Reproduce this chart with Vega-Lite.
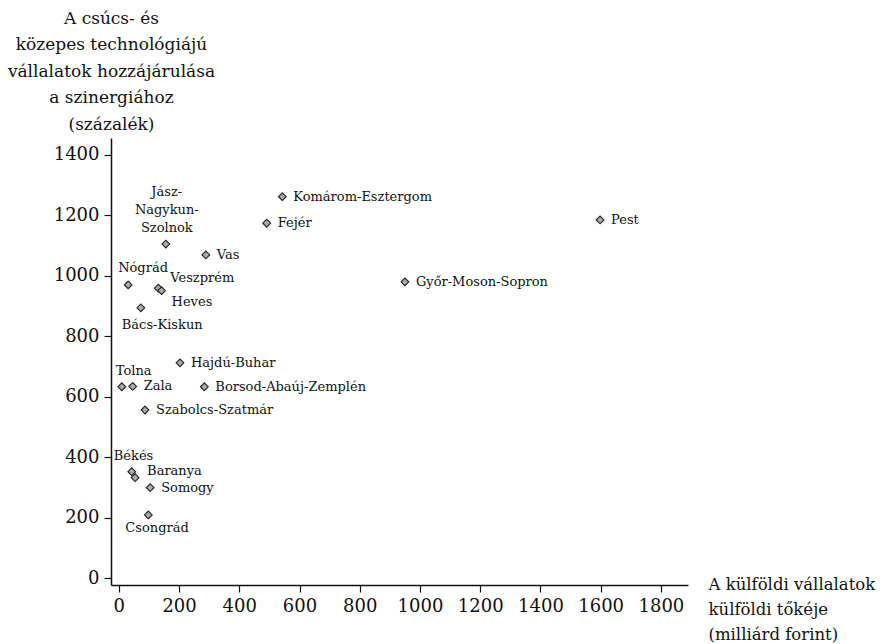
{
  "$schema": "https://vega.github.io/schema/vega-lite/v6.json",
  "autosize": "none",
  "width": 577,
  "height": 447,
  "padding": {"left": 111, "top": 138, "right": 201, "bottom": 59},
  "background": "white",
  "config": {
    "font": "DejaVu Serif",
    "view": {"stroke": null},
    "axis": {
      "grid": false,
      "domainColor": "#111",
      "domainWidth": 1.5,
      "tickColor": "#111",
      "tickWidth": 1.2,
      "tickSize": 7,
      "labelFont": "DejaVu Serif",
      "labelFontSize": 18,
      "labelColor": "#111",
      "titleFont": "DejaVu Serif",
      "titleFontSize": 17,
      "titleFontWeight": "normal",
      "titleColor": "#111"
    },
    "text": {"font": "DejaVu Serif", "fontSize": 13, "color": "#111"}
  },
  "data": {
    "values": [
      {"megye": "Pest", "toke": 1598, "hozzajarulas": 1185},
      {"megye": "Győr-Moson-Sopron", "toke": 950, "hozzajarulas": 980},
      {"megye": "Komárom-Esztergom", "toke": 543, "hozzajarulas": 1262},
      {"megye": "Fejér", "toke": 491, "hozzajarulas": 1174},
      {"megye": "Jász-Nagykun-Szolnok", "toke": 156, "hozzajarulas": 1105},
      {"megye": "Vas", "toke": 289, "hozzajarulas": 1069},
      {"megye": "Nógrád", "toke": 31, "hozzajarulas": 970},
      {"megye": "Veszprém", "toke": 131, "hozzajarulas": 959},
      {"megye": "Heves", "toke": 142, "hozzajarulas": 951},
      {"megye": "Bács-Kiskun", "toke": 73, "hozzajarulas": 894},
      {"megye": "Hajdú-Buhar", "toke": 203, "hozzajarulas": 712},
      {"megye": "Borsod-Abaúj-Zemplén", "toke": 284, "hozzajarulas": 633},
      {"megye": "Tolna", "toke": 10, "hozzajarulas": 633},
      {"megye": "Zala", "toke": 46, "hozzajarulas": 634},
      {"megye": "Szabolcs-Szatmár", "toke": 87, "hozzajarulas": 556},
      {"megye": "Békés", "toke": 43, "hozzajarulas": 352},
      {"megye": "Baranya", "toke": 54, "hozzajarulas": 332},
      {"megye": "Somogy", "toke": 104, "hozzajarulas": 299},
      {"megye": "Csongrád", "toke": 98, "hozzajarulas": 209}
    ]
  },
  "encoding": {
    "x": {
      "field": "toke",
      "type": "quantitative",
      "scale": {"domain": [-26, 1890], "nice": false, "zero": false},
      "axis": {
        "values": [0, 200, 400, 600, 800, 1000, 1200, 1400, 1600, 1800],
        "format": "d",
        "labelPadding": 5,
        "title": ["A külföldi vállalatok", "külföldi tőkéje", "(milliárd forint)"],
        "titleFontSize": 16.5,
        "titleAngle": 0,
        "titleAlign": "left",
        "titleBaseline": "top",
        "titleLineHeight": 25,
        "titleX": 597,
        "titleY": -9
      }
    },
    "y": {
      "field": "hozzajarulas",
      "type": "quantitative",
      "scale": {"domain": [-23, 1456], "nice": false, "zero": false},
      "axis": {
        "values": [0, 200, 400, 600, 800, 1000, 1200, 1400],
        "format": "d",
        "labelPadding": 5,
        "title": ["A csúcs- és", "közepes technológiájú", "vállalatok hozzájárulása", "a szinergiához", "(százalék)"],
        "titleAngle": 0,
        "titleAlign": "center",
        "titleBaseline": "top",
        "titleLineHeight": 26.5,
        "titleX": 0,
        "titleY": -128
      }
    }
  },
  "layer": [
    {
      "mark": {"type": "point", "shape": "diamond", "filled": true, "fill": "#ababab", "stroke": "#222", "strokeWidth": 1.1, "size": 60, "opacity": 1}
    },
    {
      "transform": [{"filter": "indexof(['Pest','Győr-Moson-Sopron','Komárom-Esztergom','Fejér','Vas','Hajdú-Buhar','Borsod-Abaúj-Zemplén','Zala','Szabolcs-Szatmár','Somogy'], datum.megye) >= 0"}],
      "mark": {"type": "text", "align": "left", "baseline": "middle", "dx": 11, "dy": 0},
      "encoding": {"text": {"field": "megye"}}
    },
    {
      "transform": [{"filter": "datum.megye == 'Jász-Nagykun-Szolnok'"}],
      "mark": {"type": "text", "align": "center", "baseline": "top", "dx": 1, "dy": -58, "lineHeight": 18},
      "encoding": {"text": {"value": ["Jász-", "Nagykun-", "Szolnok"]}}
    },
    {
      "transform": [{"filter": "datum.megye == 'Nógrád'"}],
      "mark": {"type": "text", "align": "left", "baseline": "middle", "dx": -10, "dy": -17},
      "encoding": {"text": {"field": "megye"}}
    },
    {
      "transform": [{"filter": "datum.megye == 'Veszprém'"}],
      "mark": {"type": "text", "align": "left", "baseline": "middle", "dx": 12, "dy": -10},
      "encoding": {"text": {"field": "megye"}}
    },
    {
      "transform": [{"filter": "datum.megye == 'Heves'"}],
      "mark": {"type": "text", "align": "left", "baseline": "middle", "dx": 10, "dy": 11},
      "encoding": {"text": {"field": "megye"}}
    },
    {
      "transform": [{"filter": "datum.megye == 'Bács-Kiskun'"}],
      "mark": {"type": "text", "align": "left", "baseline": "middle", "dx": -19, "dy": 17},
      "encoding": {"text": {"field": "megye"}}
    },
    {
      "transform": [{"filter": "datum.megye == 'Tolna'"}],
      "mark": {"type": "text", "align": "left", "baseline": "middle", "dx": -6, "dy": -16},
      "encoding": {"text": {"field": "megye"}}
    },
    {
      "transform": [{"filter": "datum.megye == 'Békés'"}],
      "mark": {"type": "text", "align": "left", "baseline": "middle", "dx": -18, "dy": -16},
      "encoding": {"text": {"field": "megye"}}
    },
    {
      "transform": [{"filter": "datum.megye == 'Baranya'"}],
      "mark": {"type": "text", "align": "left", "baseline": "middle", "dx": 12, "dy": -7},
      "encoding": {"text": {"field": "megye"}}
    },
    {
      "transform": [{"filter": "datum.megye == 'Csongrád'"}],
      "mark": {"type": "text", "align": "left", "baseline": "middle", "dx": -23, "dy": 13},
      "encoding": {"text": {"field": "megye"}}
    }
  ]
}
